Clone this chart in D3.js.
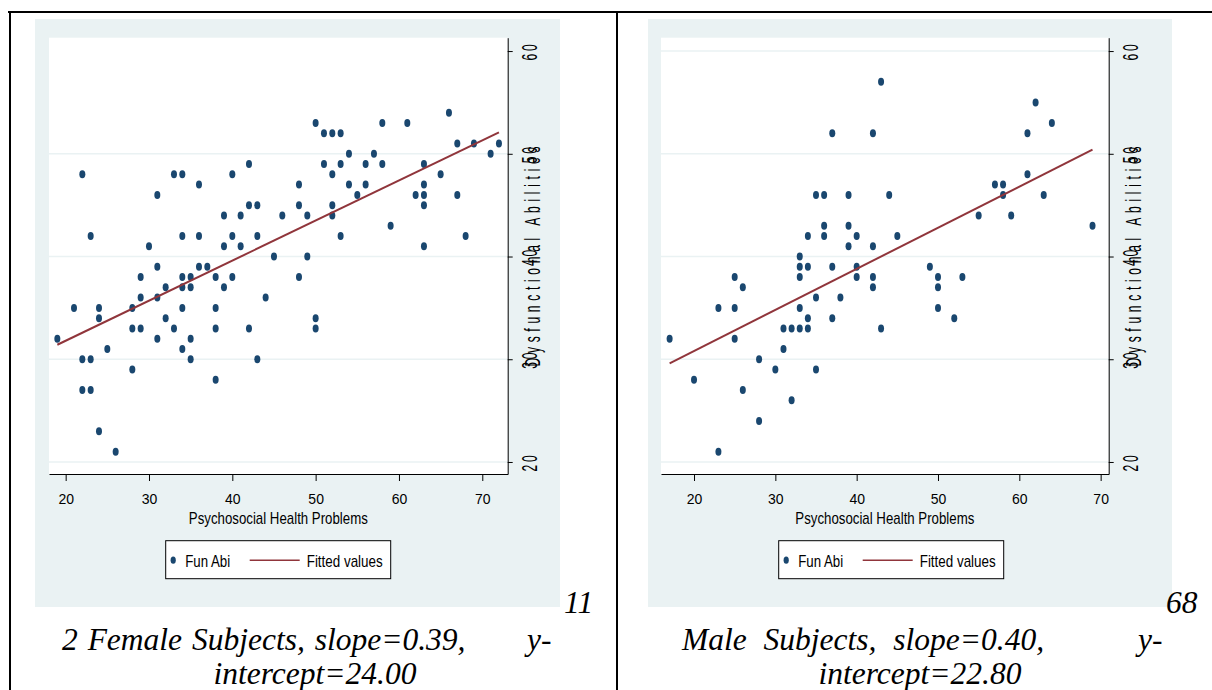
<!DOCTYPE html>
<html>
<head>
<meta charset="utf-8">
<script src="https://cdn.jsdelivr.net/npm/d3@7"></script>
<style>
  html, body { margin: 0; padding: 0; background: #fff; }
  svg { display: block; }
</style>
</head>
<body>
<svg id="chart" width="1212" height="690"></svg>
<script>
// tick values shared by both panels
const xTicks = [20, 30, 40, 50, 60, 70];
const yTicks = [20, 30, 40, 50, 60];

// Female subjects: Psychosocial Health Problems (x) vs Dysfunctional Abilities (y)
const femaleHealth = [
  19, 21, 22, 22, 22, 23, 23, 23, 24, 24,
  24, 25, 26, 28, 28, 28, 29, 29, 29, 30,
  31, 31, 31, 31, 32, 32, 33, 33, 34, 34,
  34, 34, 34, 34, 35, 35, 35, 35, 36, 36,
  36, 37, 38, 38, 38, 38, 39, 39, 39, 40,
  40, 40, 41, 41, 42, 42, 42, 43, 43, 43,
  44, 45, 46, 48, 48, 48, 49, 49, 50, 50,
  50, 51, 51, 52, 52, 52, 52, 53, 53, 53,
  54, 54, 55, 56, 56, 57, 58, 58, 59, 61,
  62, 63, 63, 63, 63, 63, 65, 66, 67, 67,
  68, 69, 71, 72
];
const femaleAbility = [
  32, 35, 48, 30, 27, 42, 30, 27, 35, 34,
  23, 31, 21, 35, 33, 29, 38, 36, 33, 41,
  46, 39, 36, 32, 37, 34, 48, 33, 48, 42,
  38, 37, 35, 31, 38, 37, 32, 30, 47, 42,
  39, 39, 38, 35, 33, 28, 44, 41, 37, 48,
  42, 38, 44, 41, 49, 45, 33, 45, 42, 30,
  36, 40, 44, 47, 45, 38, 44, 40, 53, 34,
  33, 52, 49, 52, 48, 45, 44, 52, 49, 42,
  50, 47, 46, 49, 47, 50, 53, 49, 43, 53,
  46, 49, 47, 46, 45, 41, 48, 54, 51, 46,
  42, 51, 50, 51
];

// Male subjects
const maleHealth = [
  17, 20, 23, 23, 25, 25, 25, 26, 26, 28,
  28, 30, 31, 31, 32, 32, 33, 33, 33, 33,
  33, 34, 34, 34, 34, 35, 35, 35, 36, 36,
  36, 37, 37, 37, 38, 39, 39, 39, 40, 40,
  40, 42, 42, 42, 42, 43, 43, 44, 45, 49,
  50, 50, 50, 52, 53, 55, 57, 58, 58, 59,
  61, 61, 62, 63, 64, 69
];
const maleAbility = [
  32, 28, 35, 21, 38, 35, 32, 37, 27, 30,
  24, 29, 33, 31, 33, 26, 40, 39, 38, 35,
  33, 42, 39, 34, 33, 46, 36, 29, 46, 43,
  42, 52, 39, 34, 36, 46, 43, 41, 42, 39,
  38, 52, 41, 38, 37, 57, 33, 46, 42, 39,
  38, 37, 35, 34, 38, 44, 47, 47, 46, 44,
  52, 48, 55, 46, 53, 43
];

// slope / intercept reported in the captions
const femaleFit = [0.39, 24.00];
const maleFit = [0.40, 22.80];

const svg = d3.select("#chart");
const stataFont = "'Liberation Sans Narrow', 'Arial Narrow', 'Liberation Sans', Arial, sans-serif";
const serif = "'Liberation Serif', 'Times New Roman', serif";
const navy = "#1a476f";
const maroon = "#90353b";
const bgColor = "#eaf2f3";

function drawPanel(cfg) {
  const g = svg.append("g");

  const x = d3.scaleLinear().domain(cfg.xFrame).range([cfg.plot[0], cfg.plot[2]]);
  const y = d3.scaleLinear().domain([18.83, 61.3]).range([cfg.plot[3], cfg.plot[1]]);

  // outer graph region
  g.append("rect")
    .attr("x", cfg.bg[0]).attr("y", cfg.bg[1])
    .attr("width", cfg.bg[2] - cfg.bg[0]).attr("height", cfg.bg[3] - cfg.bg[1])
    .attr("fill", bgColor);

  // plot region
  g.append("rect")
    .attr("x", cfg.plot[0]).attr("y", cfg.plot[1])
    .attr("width", cfg.plot[2] - cfg.plot[0]).attr("height", cfg.plot[3] - cfg.plot[1])
    .attr("fill", "#fff");

  // horizontal grid lines
  g.append("g").selectAll("line")
    .data(cfg.grid)
    .join("line")
    .attr("x1", cfg.plot[0]).attr("x2", cfg.plot[2])
    .attr("y1", d => y(d)).attr("y2", d => y(d))
    .attr("stroke", bgColor)
    .attr("stroke-width", 1.6);

  // scatter points
  const pts = cfg.xs.map((v, i) => [v, cfg.ys[i]]);
  g.append("g").selectAll("ellipse")
    .data(pts)
    .join("ellipse")
    .attr("cx", d => x(d[0]))
    .attr("cy", d => y(d[1]))
    .attr("rx", 3)
    .attr("ry", 4)
    .attr("fill", navy);

  // fitted line
  const fit = v => cfg.fit[1] + cfg.fit[0] * v;
  const ext = d3.extent(cfg.xs);
  g.append("line")
    .attr("x1", x(ext[0])).attr("y1", y(fit(ext[0])))
    .attr("x2", x(ext[1])).attr("y2", y(fit(ext[1])))
    .attr("stroke", maroon)
    .attr("stroke-width", 2);

  // x axis
  const gx = g.append("g")
    .attr("transform", `translate(0,${cfg.plot[3]})`)
    .call(d3.axisBottom(x).tickValues(xTicks).tickSize(7).tickSizeOuter(0).tickPadding(13));
  gx.select(".domain").attr("stroke", "#000");
  gx.selectAll(".tick line").attr("stroke", "#000");
  gx.selectAll(".tick text")
    .attr("font-family", stataFont)
    .attr("font-size", 14)
    .attr("fill", "#000");

  // y axis on the right
  const gy = g.append("g")
    .attr("transform", `translate(${cfg.plot[2]},0)`)
    .call(d3.axisRight(y).tickValues(yTicks).tickSize(5).tickSizeOuter(0).tickFormat(""));
  gy.select(".domain").attr("stroke", "#000");
  gy.selectAll(".tick line").attr("stroke", "#000");

  // rotated y tick labels
  g.append("g").selectAll("text")
    .data(yTicks)
    .join("text")
    .attr("transform", d => `translate(${cfg.plot[2] + 29},${y(d)}) rotate(-90) scale(0.55,1)`)
    .attr("text-anchor", "middle")
    .attr("font-family", "'Liberation Sans', Arial, sans-serif")
    .attr("font-size", 22)
    .style("letter-spacing", "5px")
    .attr("fill", "#000")
    .text(d => d);

  // y axis title
  g.append("text")
    .attr("transform", `translate(${cfg.plot[2] + 32.5},${y(40)}) rotate(-90) scale(0.55,1)`)
    .attr("text-anchor", "middle")
    .attr("font-family", "'Liberation Sans', Arial, sans-serif")
    .attr("font-size", 22)
    .attr("textLength", 400)
    .attr("lengthAdjust", "spacing")
    .attr("fill", "#000")
    .text("Dysfunctional Abilities");

  // x axis title
  g.append("text")
    .attr("x", (cfg.plot[0] + cfg.plot[2]) / 2)
    .attr("y", 524)
    .attr("text-anchor", "middle")
    .attr("font-family", stataFont)
    .attr("font-size", 17)
    .attr("textLength", 179)
    .attr("lengthAdjust", "spacingAndGlyphs")
    .attr("fill", "#000")
    .text("Psychosocial Health Problems");

  // legend
  const lx = cfg.bg[0] + 130.7;
  const lg = g.append("g").attr("transform", `translate(${lx},540.7)`);
  lg.append("rect")
    .attr("width", 225).attr("height", 38)
    .attr("fill", "#fff").attr("stroke", "#000").attr("stroke-width", 1);
  lg.append("ellipse")
    .attr("cx", 7.5).attr("cy", 19.5).attr("rx", 2.6).attr("ry", 3.6)
    .attr("fill", navy);
  lg.append("text")
    .attr("x", 19.5).attr("y", 26.5)
    .attr("font-family", stataFont).attr("font-size", 17)
    .attr("textLength", 45).attr("lengthAdjust", "spacingAndGlyphs")
    .text("Fun Abi");
  lg.append("line")
    .attr("x1", 84).attr("x2", 134).attr("y1", 19.5).attr("y2", 19.5)
    .attr("stroke", maroon).attr("stroke-width", 1.5);
  lg.append("text")
    .attr("x", 141).attr("y", 26.5)
    .attr("font-family", stataFont).attr("font-size", 17)
    .attr("textLength", 76).attr("lengthAdjust", "spacingAndGlyphs")
    .text("Fitted values");

  // captions (document text under each figure)
  const cap = g.append("g")
    .attr("font-family", serif)
    .attr("font-style", "italic")
    .attr("font-size", 31.5)
    .attr("fill", "#000");
  cap.append("text")
    .attr("x", cfg.numX).attr("y", 613)
    .text(cfg.num);
  cap.append("text")
    .attr("x", cfg.cap1X).attr("y", 650)
    .style("word-spacing", cfg.wordSpace + "px")
    .text(cfg.cap1);
  cap.append("text")
    .attr("x", cfg.yDashX).attr("y", 650)
    .text("y-");
  cap.append("text")
    .attr("x", cfg.cap2X).attr("y", 684)
    .attr("text-anchor", "middle")
    .text(cfg.cap2);
}

drawPanel({
  bg: [35, 19, 560, 607],
  plot: [49, 37.7, 507.7, 474],
  xFrame: [18, 73.05],
  grid: [20, 30, 40, 50],
  xs: femaleHealth, ys: femaleAbility, fit: femaleFit,
  num: "11", numX: 564,
  cap1: `2 Female Subjects, slope=${femaleFit[0].toFixed(2)},`, cap1X: 62, wordSpace: 2,
  yDashX: 527,
  cap2: `intercept=${femaleFit[1].toFixed(2)}`, cap2X: 315
});

drawPanel({
  bg: [648, 19, 1172, 607],
  plot: [661, 37.7, 1108.7, 474],
  xFrame: [15.94, 70.99],
  grid: [20, 30, 40, 50, 60],
  xs: maleHealth, ys: maleAbility, fit: maleFit,
  num: "68", numX: 1166,
  cap1: `Male Subjects, slope=${maleFit[0].toFixed(2)},`, cap1X: 682, wordSpace: 9,
  yDashX: 1138,
  cap2: `intercept=${maleFit[1].toFixed(2)}`, cap2X: 920
});

// table borders of the page the figures sit in
const borders = [
  [8, 12, 1212, 12],
  [10, 12, 10, 690],
  [617, 12, 617, 690]
];
svg.append("g").selectAll("line")
  .data(borders)
  .join("line")
  .attr("x1", d => d[0]).attr("y1", d => d[1])
  .attr("x2", d => d[2]).attr("y2", d => d[3])
  .attr("stroke", "#000")
  .attr("stroke-width", 2);
</script>
</body>
</html>
